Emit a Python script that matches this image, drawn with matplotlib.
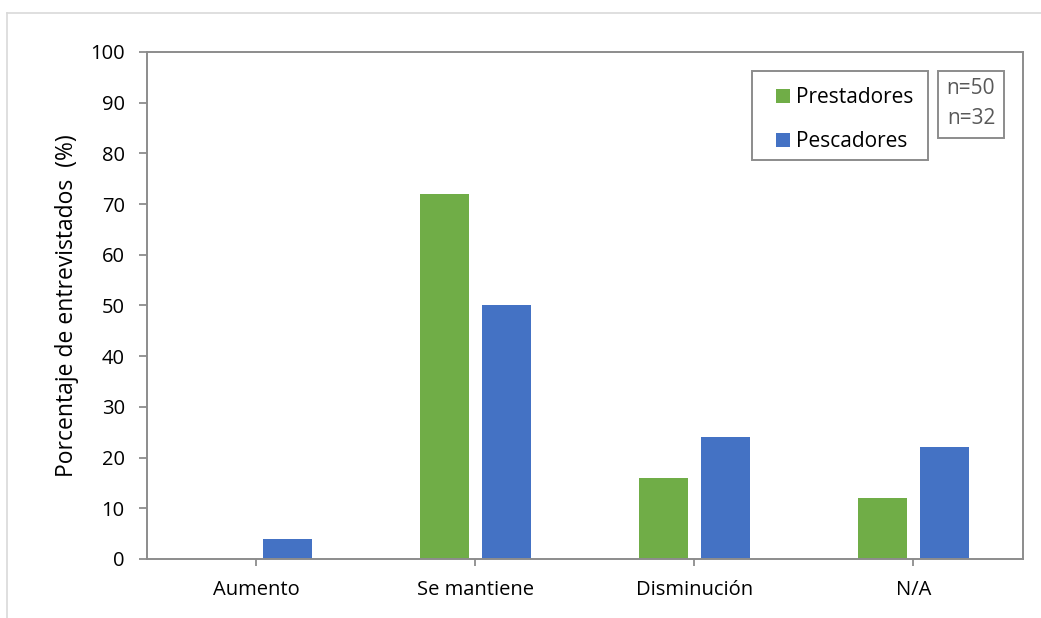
import matplotlib
matplotlib.use("Agg")
import matplotlib.pyplot as plt
from matplotlib.patches import Patch, Rectangle
from matplotlib.lines import Line2D
import numpy as np

categories = ["Aumento", "Se mantiene", "Disminución", "N/A"]
prestadores = [0, 72, 16, 12]
pescadores = [4, 50, 24, 22]
series_names = ["Prestadores", "Pescadores"]
sample_sizes = ["n=50", "n=32"]
y_ticks = list(range(0, 101, 10))

green = "#70AD47"
blue = "#4472C4"
axis_gray = "#8C8C8C"

plt.rcParams["font.family"] = ["Open Sans", "DejaVu Sans"]

fig = plt.figure(figsize=(10.41, 6.18), dpi=100)
ax = fig.add_axes([0.1412, 0.0955, 0.8415, 0.8204])

x = np.arange(len(categories))
width = 0.223
offset = 0.143
ax.bar(x - offset, prestadores, width, color=green, label=series_names[0])
ax.bar(x + offset, pescadores, width, color=blue, label=series_names[1])

ax.set_xlim(-0.5, len(categories) - 0.5)
ax.set_ylim(0, 100)
ax.set_yticks(y_ticks)
ax.set_xticks(x)
ax.set_xticklabels(categories)
ax.tick_params(axis="both", direction="out", color=axis_gray, width=1.3,
               labelsize=14.5, labelcolor="black")
ax.tick_params(axis="y", length=6, pad=10)
ax.tick_params(axis="x", length=5, pad=10)
for s in ax.spines.values():
    s.set_color(axis_gray)
    s.set_linewidth(1.4)

ax.set_ylabel("Porcentaje de entrevistados  (%)", fontsize=16.5, labelpad=8)

# legend entries without their own frame; the frame is drawn as a rectangle
handles = [Patch(facecolor=green), Patch(facecolor=blue)]
leg = ax.legend(handles, series_names, loc="upper left",
                bbox_to_anchor=(0.718, 0.930), fontsize=15, frameon=False,
                borderpad=0, labelspacing=1.1, handlelength=0.68,
                handleheight=0.68, handletextpad=0.3, borderaxespad=0)

ax.add_patch(Rectangle((0.6906, 0.787), 0.2010, 0.1755, transform=ax.transAxes,
                       facecolor="none", edgecolor=axis_gray, linewidth=1.4,
                       clip_on=False, zorder=5))
ax.add_patch(Rectangle((0.903, 0.830), 0.075, 0.1325, transform=ax.transAxes,
                       facecolor="white", edgecolor=axis_gray, linewidth=1.4,
                       clip_on=False, zorder=5))
ax.text(0.9406, 0.898, "\n".join(sample_sizes), transform=ax.transAxes,
        ha="center", va="center", fontsize=15, color="#595959",
        linespacing=1.6, zorder=6)

# light outer frame of the chart area
fig.add_artist(Line2D([7 / 1041, 1], [1 - 13 / 618, 1 - 13 / 618],
                      transform=fig.transFigure, color="#D9D9D9", lw=1.2))
fig.add_artist(Line2D([7 / 1041, 7 / 1041], [1 - 13 / 618, 0],
                      transform=fig.transFigure, color="#D9D9D9", lw=1.2))

fig.savefig("out.png", dpi=100)
